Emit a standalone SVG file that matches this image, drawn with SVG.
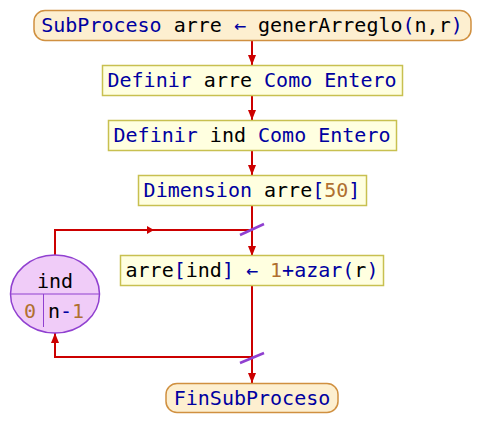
<svg xmlns="http://www.w3.org/2000/svg" width="496" height="448" viewBox="0 0 496 448">
<style>
text{font-family:"DejaVu Sans Mono","Liberation Mono",monospace;font-size:20px;fill:#000}
.k{fill:#0000a0}
.n{fill:#b07030}
.term{fill:#fdefd0;stroke:#d09040;stroke-width:1.5}
.box{fill:#ffffe0;stroke:#c8c050;stroke-width:1.5}
.loop{fill:#f0ccf8;stroke:#9040d0;stroke-width:1.5}
.ln{fill:none;stroke:#cc0000;stroke-width:2}
.sl{stroke:#9040d0;stroke-width:2.5}
.ah{fill:#cc0000}
</style>
<defs>
<marker id="arr" viewBox="0 0 10 8" refX="10" refY="4" markerWidth="10" markerHeight="8" markerUnits="userSpaceOnUse" orient="auto">
<path d="M0,0 L10,4 L0,8 Z" fill="#cc0000"/>
</marker>
</defs>
<g id="connectors">
<line class="ln" x1="252" y1="41" x2="252" y2="65" marker-end="url(#arr)"/>
<line class="ln" x1="252" y1="96" x2="252" y2="120" marker-end="url(#arr)"/>
<line class="ln" x1="252" y1="151" x2="252" y2="175" marker-end="url(#arr)"/>
<line class="ln" x1="252" y1="206" x2="252" y2="256" marker-end="url(#arr)"/>
<line class="ln" x1="252" y1="285" x2="252" y2="383" marker-end="url(#arr)"/>
<polyline class="ln" points="55,256 55,230 252,230"/>
<path class="ah" d="M147,226 L154,230 L147,234 Z"/>
<polyline class="ln" points="252,357 55,357 55,333" marker-end="url(#arr)"/>
<line class="sl" x1="240" y1="235" x2="264" y2="224"/>
<line class="sl" x1="240" y1="363" x2="264" y2="353"/>
</g>
<g id="start">
<rect class="term" x="34" y="10.5" width="437" height="30" rx="11"/>
<text x="252" y="32" text-anchor="middle"><tspan class="k">SubProceso</tspan> arre <tspan class="k">←</tspan> generArreglo<tspan class="k">(</tspan>n,r<tspan class="k">)</tspan></text>
</g>
<g id="def-arre">
<rect class="box" x="102.5" y="65.5" width="300" height="30"/>
<text x="252" y="87" text-anchor="middle"><tspan class="k">Definir</tspan> arre <tspan class="k">Como Entero</tspan></text>
</g>
<g id="def-ind">
<rect class="box" x="108.5" y="120.5" width="288" height="30"/>
<text x="252" y="142" text-anchor="middle"><tspan class="k">Definir</tspan> ind <tspan class="k">Como Entero</tspan></text>
</g>
<g id="dim">
<rect class="box" x="138.5" y="175.5" width="228" height="30"/>
<text x="252" y="197" text-anchor="middle"><tspan class="k">Dimension</tspan> arre<tspan class="k">[</tspan><tspan class="n">50</tspan><tspan class="k">]</tspan></text>
</g>
<g id="assign">
<rect class="box" x="120.5" y="255.5" width="263" height="30"/>
<text x="252" y="277" text-anchor="middle">arre<tspan class="k">[</tspan>ind<tspan class="k">]</tspan> <tspan class="k">←</tspan> <tspan class="n">1</tspan><tspan class="k">+azar(</tspan>r<tspan class="k">)</tspan></text>
</g>
<g id="for-loop">
<ellipse class="loop" cx="55" cy="294" rx="44.5" ry="39"/>
<line x1="10.5" y1="294" x2="99.5" y2="294" stroke="#9040d0" stroke-width="1"/>
<line x1="43.5" y1="294" x2="43.5" y2="327" stroke="#9040d0" stroke-width="1"/>
<text x="55" y="288" text-anchor="middle">ind</text>
<text x="30" y="318" text-anchor="middle" class="n">0</text>
<text x="48" y="318">n<tspan class="k">-</tspan><tspan class="n">1</tspan></text>
</g>
<g id="end">
<rect class="term" x="166" y="383.5" width="172" height="29" rx="11"/>
<text x="252" y="405" text-anchor="middle" class="k">FinSubProceso</text>
</g>
</svg>
